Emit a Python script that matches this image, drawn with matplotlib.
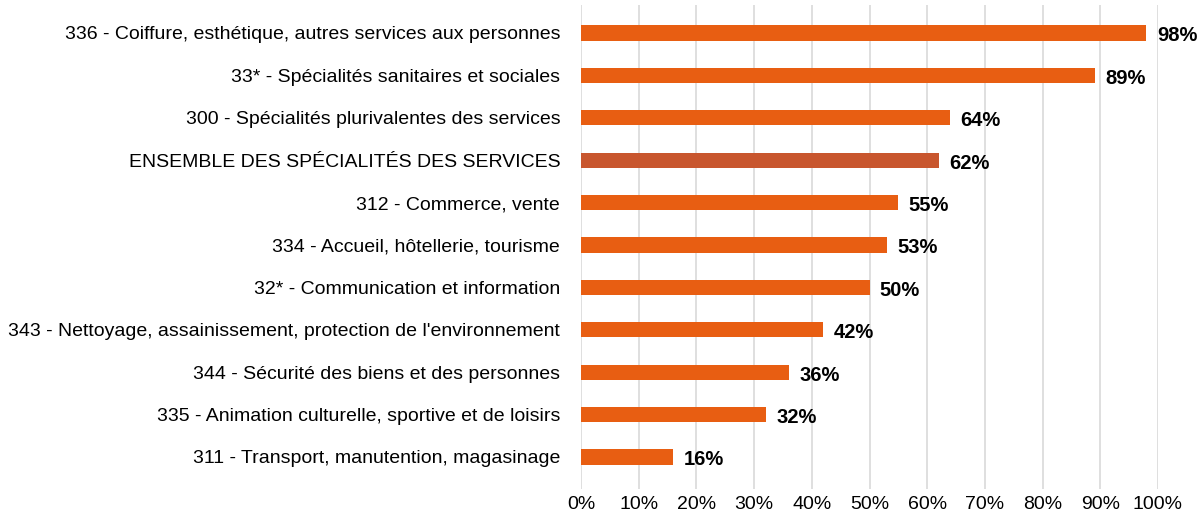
import matplotlib
matplotlib.use("Agg")
import matplotlib.pyplot as plt

# categories top to bottom
categories = [
    "336 - Coiffure, esthétique, autres services aux personnes",
    "33* - Spécialités sanitaires et sociales",
    "300 - Spécialités plurivalentes des services",
    "ENSEMBLE DES SPÉCIALITÉS DES SERVICES",
    "312 - Commerce, vente",
    "334 - Accueil, hôtellerie, tourisme",
    "32* - Communication et information",
    "343 - Nettoyage, assainissement, protection de l'environnement",
    "344 - Sécurité des biens et des personnes",
    "335 - Animation culturelle, sportive et de loisirs",
    "311 - Transport, manutention, magasinage",
]
values = [98, 89, 64, 62, 55, 53, 50, 42, 36, 32, 16]
ticks = list(range(0, 101, 10))

plt.rcParams['font.family'] = ['Liberation Sans Narrow', 'Liberation Sans', 'DejaVu Sans']

fig = plt.figure(figsize=(11.98, 5.15), dpi=100)
ax = fig.add_axes([581 / 1198, 1 - 489 / 515, (1158 - 581) / 1198, (489 - 5) / 515])

colors = ['#C8562E' if c.startswith("ENSEMBLE") else '#E85E12' for c in categories]
ypos = list(range(len(categories)))
ax.barh(ypos, values, height=0.36, color=colors, zorder=3)

for y, v in zip(ypos, values):
    ax.text(v + 1.8, y + 0.07, f"{v}%", va='center', ha='left', fontsize=14.5,
            fontweight='bold', color='black')

ax.set_xlim(0, 100)
ax.set_ylim(10.755, -0.66)
ax.set_yticks(ypos)
ax.set_yticklabels(categories, fontsize=14)
ax.set_xticks(ticks)
ax.set_xticklabels([f"{t}%" for t in ticks], fontsize=14)
ax.tick_params(axis='both', length=0)
ax.tick_params(axis='y', pad=15)
ax.tick_params(axis='x', pad=5)
ax.xaxis.grid(True, color='#D9D9D9', linewidth=1.2, zorder=0)
for s in ax.spines.values():
    s.set_visible(False)

fig.savefig("out.png", dpi=100)
